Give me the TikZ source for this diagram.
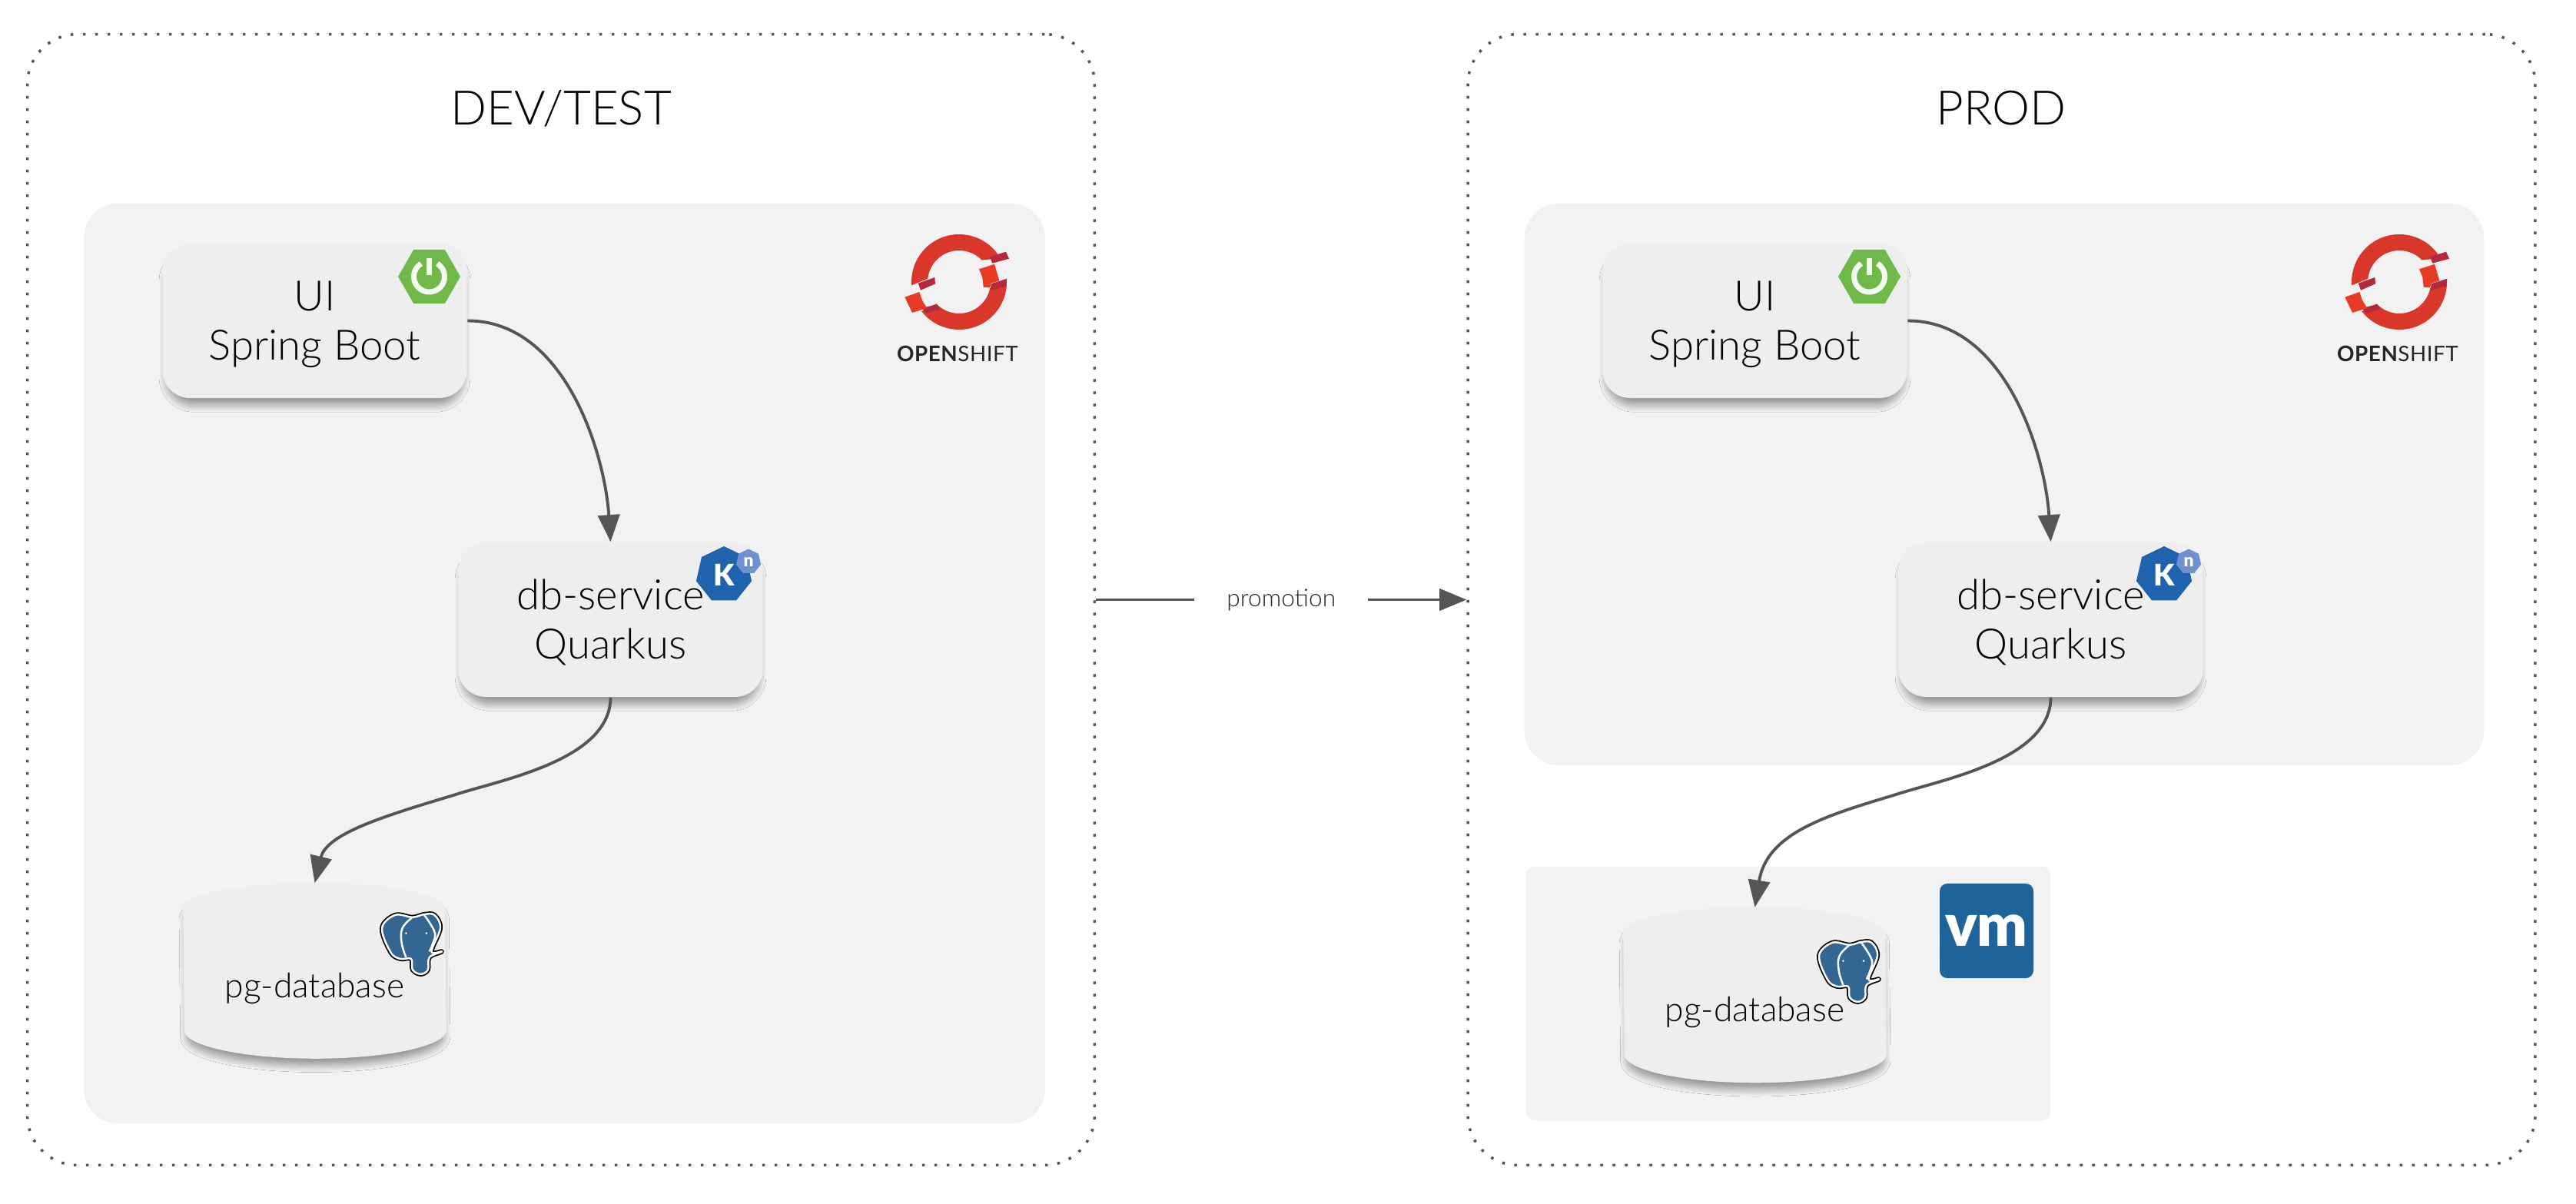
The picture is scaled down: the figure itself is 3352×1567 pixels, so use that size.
\documentclass[tikz,border=0pt]{standalone}
\usepackage{fontspec}
\setmainfont{Lato Light}
\newfontfamily\boldfont{Lato}[BoldFont={Lato Black}]
\newfontfamily\logofont[LetterSpace=2]{Lato}
\usetikzlibrary{arrows.meta, calc, shapes.geometric, shadows.blur}
\definecolor{panelgray}{HTML}{f2f2f2}
\definecolor{nodegray}{HTML}{eeeeee}
\definecolor{linegray}{HTML}{555555}
\definecolor{springgreen}{HTML}{6fb94b}
\definecolor{knblue}{HTML}{1f62ae}
\definecolor{knlight}{HTML}{6f92ce}
\definecolor{osred}{HTML}{d8372a}
\definecolor{osbright}{HTML}{e83b24}
\definecolor{osdark}{HTML}{b5293a}
\definecolor{vmblue}{HTML}{1e6399}
\definecolor{pgblue}{HTML}{336791}
\tikzset{
  softshadow/.style={blur shadow={shadow xshift=0pt, shadow yshift=-3.2pt, shadow blur radius=3pt, shadow blur steps=20, shadow scale=0.97, shadow opacity=45}},
  frame/.style={rectangle, draw=linegray, line width=1pt, dash pattern=on 1pt off 3.55pt,
    rounded corners=0.65cm, minimum width=13.88cm, minimum height=14.71cm},
  panel/.style={rectangle, fill=panelgray, inner sep=0pt},
  svcbox/.style={rectangle, fill=nodegray, rounded corners=0.36cm, align=center,
    minimum width=3.96cm, minimum height=2.01cm, inner sep=0pt,
    text height=31.8pt, text depth=3pt,
    font=\fontsize{15.5}{18.2}\selectfont, softshadow},
  dbnode/.style={rectangle, inner sep=0pt, minimum width=3.41cm, minimum height=2.27cm},
  dbbody/.style={fill=nodegray, softshadow},
  dblabel/.style={font=\fontsize{12.6}{15}\selectfont, inner sep=0pt},
  title/.style={font=\fontsize{17.6}{20}\selectfont, text=black},
  conn/.style={draw=linegray, line width=1.1pt, -{Triangle[length=10pt, width=8pt]}},
  hexicon/.style={regular polygon, regular polygon sides=6, inner sep=0pt, minimum size=0.81cm, fill=springgreen},
  knicon/.style={regular polygon, regular polygon sides=7, inner sep=0pt, text=white},
}

% db cylinder, drawn around its (empty) node
\newcommand{\dbshape}[1]{
  \path[dbbody] ($(#1.north west)+(0,33)$) arc[start angle=180, end angle=360, x radius=170.5, y radius=33]
    -- ($(#1.south east)+(0,-37)$) arc[start angle=0, end angle=180, x radius=170.5, y radius=37] -- cycle;
}
% spring boot badge
\newcommand{\springicon}[3]{
  \node[hexicon] (#3) at (#1,#2) {};
  \begin{scope}[shift={(#1,#2)}, yscale=-1]
    \draw[white!92!springgreen, line width=2pt] (58:20) arc[start angle=58, end angle=-238, radius=20];
    \draw[white!92!springgreen, line width=2pt] (0,24) -- (0,2);
  \end{scope}
}
% knative badge
\newcommand{\knicon}[3]{
  \node[knicon, fill=knblue, minimum size=0.74cm, font=\boldfont\bfseries\fontsize{11}{11}\selectfont] (#3) at (#1,#2) {K};
  \node[knicon, fill=knlight, minimum size=0.33cm, font=\boldfont\bfseries\fontsize{6.5}{7}\selectfont] (#3n) at ($(#1,#2)+(32,-17)$) {n};
}
% openshift ring + wordmark
\newcommand{\oslogo}[3]{
  \begin{scope}[shift={(#1,#2)}, yscale=-1]
    \fill[osred] (184:62) arc[start angle=184, end angle=30, radius=62] -- (44:41) arc[start angle=44, end angle=174, radius=41] -- cycle;
    \fill[osred] (4:62) arc[start angle=4, end angle=-142, radius=62] -- (-136:41) arc[start angle=-136, end angle=-11, radius=41] -- cycle;
    \fill[osdark] (40,32.7) -- (61,39.3) -- (65,30.3) -- (43.3,24.3) -- cycle;
    \fill[osdark] (-53.3,-1.7) -- (-31.7,6) -- (-31,-2.3) -- (-50,-10.7) -- cycle;
    \fill[osdark] (41.7,-2.3) -- (62.3,4.3) -- (61,-5.7) -- (40.7,-10.7) -- cycle;
    \fill[osdark] (-48.3,-34) -- (-29,-29) -- (-24.3,-35.7) -- (-43.3,-40.7) -- cycle;
    \fill[osbright] (26,16.7) -- (46,23.3) -- (52.3,1.7) -- (41.7,-1.7) -- (40,-7.3) -- (31.7,-6.7) -- (30.3,6) -- cycle;
    \fill[osbright] (-70.7,-19.7) -- (-51.7,-13) -- (-48,-24) -- (-41.7,-34) -- (-61,-40) -- cycle;
  \end{scope}
  \node[anchor=base, inner sep=0pt, text=black!85, font=\logofont\fontsize{7.9}{9}\selectfont] (#3) at ($(#1,#2)+(-2,103)$) {\textbf{OPEN}SHIFT};
}
% postgres elephant
\newcommand{\pgicon}[2]{
  \begin{scope}[shift={(#1+2,#2+2)}, scale=0.95]
    \draw[black, line width=1.7pt, line join=round] plot[smooth cycle, tension=.6] coordinates {(18,2) (0,20) (12,53) (25,62) (40,62) (42,77) (53,83) (63,77) (65,60) (82,52) (68,52) (80,20) (72,2) (58,1) (42,5)};
    \draw[white, fill=pgblue, line width=.7pt, line join=round] plot[smooth cycle, tension=.6] coordinates {(18,2) (0,20) (12,53) (25,62) (40,62) (42,77) (53,83) (63,77) (65,60) (82,52) (68,52) (80,20) (72,2) (58,1) (42,5)};
    \draw[white, line width=.7pt] plot[smooth, tension=.7] coordinates {(42,5) (28,20) (27,40) (33,60)};
    \draw[white, line width=.7pt] plot[smooth, tension=.7] coordinates {(58,2) (72,25) (70,40) (65,52)};
    \fill[white] (33,27) circle (1.5) (61,27) circle (1.5);
  \end{scope}
}

\begin{document}
\begin{tikzpicture}[x=0.01cm, y=-0.01cm]
    \useasboundingbox (0,0) rectangle (3352,1567);

    % DEV/TEST
    \node[frame] (devframe) at (730,780.5) {};
    \node[title] (devtitle) at (730,141) {DEV/TEST};
    \node[panel, rounded corners=0.45cm, minimum width=12.5cm, minimum height=11.97cm] (devpanel) at (734.5,863.5) {};
    \node[svcbox] (devui) at (409.5,417.5) {UI\\Spring Boot};
    \node[svcbox] (devsvc) at (794.5,806.5) {db-service\\Quarkus};
    \node[dbnode] (devdb) at (409.5,1263.5) {};
    \dbshape{devdb}
    \node[dblabel] (devdblabel) at (409.5,1286) {pg-database};
    \springicon{558.5}{360}{devspring}
    \knicon{942}{748}{devkn}
    \pgicon{495}{1187}
    \oslogo{1248}{367}{devos}
    \draw[conn] (devui.east) .. controls (735,417) and (787,590) .. (devsvc.north);
    \draw[conn] (devsvc.south) .. controls (794,990) and (650,1015) .. (590,1035) .. controls (500,1062) and (425,1085) .. (devdb.north);

    % PROD
    \node[frame] (prodframe) at (2604.5,780.5) {};
    \node[title] (prodtitle) at (2604,141) {PROD};
    \node[panel, rounded corners=0.45cm, minimum width=12.48cm, minimum height=7.31cm] (prodpanel) at (2608,630.5) {};
    \node[panel, rounded corners=0.1cm, minimum width=6.82cm, minimum height=3.3cm] (vmpanel) at (2327,1293) {};
    \node[svcbox] (produi) at (2283.5,417.5) {UI\\Spring Boot};
    \node[svcbox] (prodsvc) at (2668.5,806.5) {db-service\\Quarkus};
    \node[dbnode] (proddb) at (2283.5,1295) {};
    \dbshape{proddb}
    \node[dblabel] (proddblabel) at (2283.5,1317) {pg-database};
    \springicon{2432.5}{360}{prodspring}
    \knicon{2816}{748}{prodkn}
    \pgicon{2365}{1223}
    \oslogo{3122}{367}{prodos}
    \node[rectangle, fill=vmblue, rounded corners=0.1cm, minimum width=1.22cm, minimum height=1.23cm, inner sep=0pt, text=white, font=\boldfont\bfseries\fontsize{22}{22}\selectfont] (vmlogo) at (2585,1211.5) {vm};
    \draw[conn] (produi.east) .. controls (2609,417) and (2661,590) .. (prodsvc.north);
    \draw[conn] (prodsvc.south) .. controls (2668,990) and (2524,1015) .. (2464,1035) .. controls (2374,1062) and (2299,1085) .. (proddb.north);

    % promotion
    \draw[conn] (devframe.east) -- node[fill=white, inner xsep=0.42cm, inner ysep=2pt, text=black!85, font=\fontsize{9}{10}\selectfont] (promo) {promotion} (prodframe.west);
\end{tikzpicture}
\end{document}
